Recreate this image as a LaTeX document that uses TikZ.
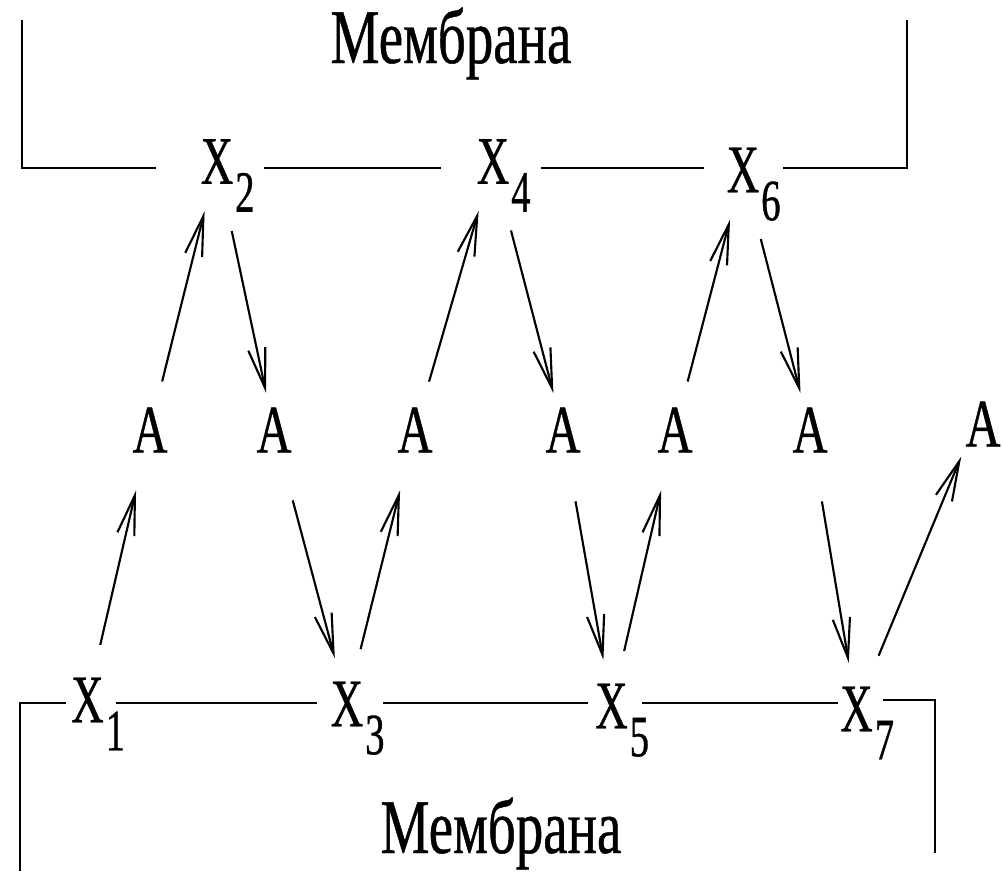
\documentclass[tikz,border=0pt]{standalone}
\usepackage{fontspec}
\setmainfont{Liberation Serif}
\newfontfamily\narrowserif[FakeStretch=0.66,FakeBold=0.6]{Liberation Serif}
\newfontfamily\wideserif[FakeStretch=0.71,FakeBold=0.6]{Liberation Serif}
\usetikzlibrary{arrows.meta,calc}

\newcommand{\xsite}[1]{X\rlap{\hspace{1.5pt}\smash{\raisebox{-21pt}{\fontsize{44}{46}\selectfont #1}}}}

\begin{document}
\begin{tikzpicture}[x=0.75pt,y=-0.75pt,
    mxnode/.style={inner sep=0pt,font=\narrowserif\fontsize{51}{55}\selectfont},
    manode/.style={inner sep=0pt,font=\wideserif\fontsize{51}{55}\selectfont},
    mlabel/.style={inner sep=0pt,anchor=base,font=\wideserif\fontsize{58}{62}\selectfont},
    mwall/.style={line width=2.2pt},
    marrow/.style={-{Straight Barb[length=30pt,width=13pt]},line width=1.6pt},
    mtoup/.style={marrow,shorten <=20pt,shorten >=21pt},
    mtodown/.style={marrow,shorten <=36pt,shorten >=11pt},
    mfromup/.style={marrow,shorten <=25pt,shorten >=29pt},
    mfromdown/.style={marrow,shorten <=37pt,shorten >=18pt}
]
\useasboundingbox (0,0) rectangle (1003,871);
% membrane labels
\node[mlabel] (memtop) at (451,63) {Мембрана};
\node[mlabel] (membot) at (501,853) {Мембрана};
% carriers in the membranes
\node[mxnode] (x2) at (217,161.5) {\xsite{2}};
\node[mxnode] (x4) at (493,161.5) {\xsite{4}};
\node[mxnode] (x6) at (743,170) {\xsite{6}};
\node[mxnode] (x1) at (87.5,700) {\xsite{1}};
\node[mxnode] (x3) at (347,704) {\xsite{3}};
\node[mxnode] (x5) at (611.5,706) {\xsite{5}};
\node[mxnode] (x7) at (856.5,709) {\xsite{7}};
% transported A
\node[manode] (a1) at (150,430) {A};
\node[manode] (a2) at (274,430) {A};
\node[manode] (a3) at (415,430) {A};
\node[manode] (a4) at (563,430) {A};
\node[manode] (a5) at (675,430) {A};
\node[manode] (a6) at (810,430) {A};
\node[manode] (a7) at (983,424) {A};
% membrane walls
\coordinate (memtl) at (22,20);
\coordinate (memtr) at (907,20);
\coordinate (membl) at (20,871);
\coordinate (membr) at (935,853);
\draw[mwall] (memtl) |- ($(x2.west)+(-45,6.5)$);
\draw[mwall] ($(x2.east)+(31,6.5)$) -- ($(x4.west)+(-36,6.5)$);
\draw[mwall] ($(x4.east)+(32,6.5)$) -- ($(x6.west)+(-23,-2)$);
\draw[mwall] ($(x6.east)+(24,-2)$) -| (memtr);
\draw[mwall] (membl) |- ($(x1.west)+(-5,3)$);
\draw[mwall] ($(x1.east)+(12,3)$) -- ($(x3.west)+(-14,-1)$);
\draw[mwall] ($(x3.east)+(20,-1)$) -- ($(x5.west)+(-7,-3)$);
\draw[mwall] ($(x5.east)+(14,-3)$) -- ($(x7.west)+(-2,-6)$);
\draw[mwall] ($(x7.east)+(10,-9)$) -| (membr);
% upper arrows
\draw[mtoup] (a1) -- (x2);
\draw[mtoup] (a3) -- (x4);
\draw[mtoup] (a5) -- (x6);
\draw[mtodown] (x2) -- (a2);
\draw[mtodown] (x4) -- (a4);
\draw[mtodown] (x6) -- (a6);
% lower arrows
\draw[mfromup] (x1) -- (a1);
\draw[mfromup] (x3) -- (a3);
\draw[mfromup] (x5) -- (a5);
\draw[mfromup,shorten >=8pt] (x7) -- (a7.south west);
\draw[mfromdown] (a2) -- (x3);
\draw[mfromdown] (a4) -- (x5);
\draw[mfromdown] (a6) -- (x7);
\end{tikzpicture}
\end{document}
